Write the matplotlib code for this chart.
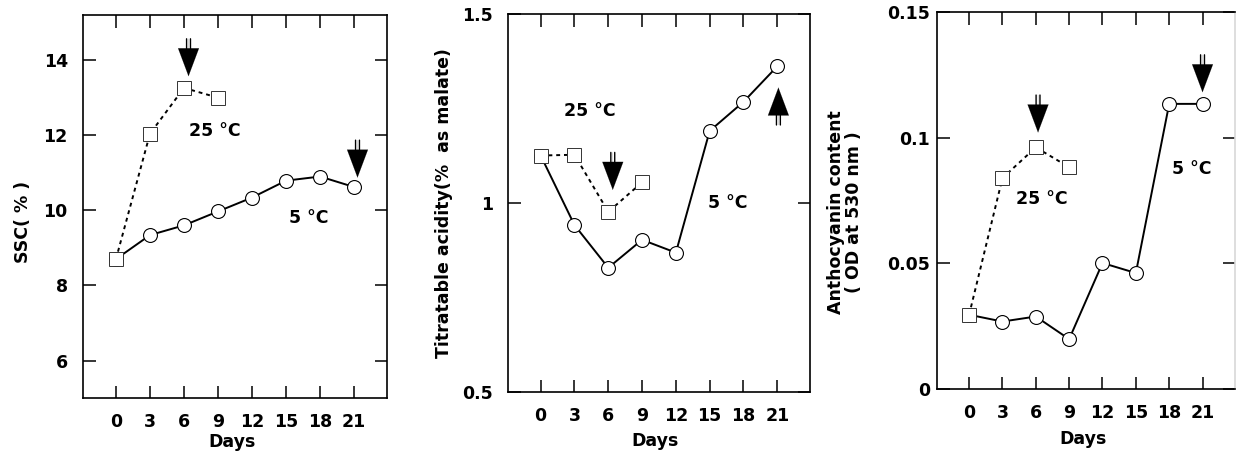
import matplotlib
matplotlib.use("Agg")
import matplotlib.pyplot as plt
from matplotlib.transforms import offset_copy

plt.rcParams['font.family'] = ['DejaVu Sans']
plt.rcParams['font.weight'] = 'bold'
plt.rcParams['axes.labelweight'] = 'bold'

days_5 = [0, 3, 6, 9, 12, 15, 18, 21]
days_25 = [0, 3, 6, 9]

# SSC (%)
ssc_5 = [8.70, 9.34, 9.60, 9.97, 10.34, 10.79, 10.90, 10.62]
ssc_25 = [8.70, 12.04, 13.26, 13.00]

# titratable acidity (% as malate)
ta_5 = [1.126, 0.942, 0.829, 0.903, 0.869, 1.191, 1.268, 1.362]
ta_25 = [1.126, 1.128, 0.977, 1.055]

# anthocyanin (OD at 530 nm)
anth_5 = [0.0295, 0.0268, 0.0288, 0.0198, 0.0501, 0.0461, 0.1134, 0.1134]
anth_25 = [0.0295, 0.0839, 0.0961, 0.0882]

xticks = [0, 3, 6, 9, 12, 15, 18, 21]
FS = 12.5


def double_arrow(ax, x, y_tip, up=False, length=27):
    fig = ax.figure
    sign = -1 if up else 1
    ax.annotate('', xy=(x, y_tip), xytext=(0, sign * length),
                textcoords='offset points',
                arrowprops=dict(arrowstyle='-|>,head_length=2.0,head_width=0.75',
                                color='k', lw=0.1, shrinkA=0, shrinkB=0))
    for dx in (-1.4, 1.4):
        tr = offset_copy(ax.transData, fig=fig, x=dx, y=0, units='points')
        ax.annotate('', xy=(x, y_tip), xycoords=tr,
                    xytext=(0, sign * length), textcoords='offset points',
                    arrowprops=dict(arrowstyle='-', color='k', lw=1.0,
                                    shrinkA=0, shrinkB=8))


def style(ax, ylim, yticks, yticklabels, ypad):
    ax.set_xlim(-2.9, 23.9)
    ax.set_ylim(*ylim)
    ax.set_xticks(xticks)
    ax.set_yticks(yticks)
    ax.set_yticklabels(yticklabels)
    ax.tick_params(direction='in', length=9, width=1.1, top=True, right=True,
                   labelsize=FS)
    ax.tick_params(axis='x', pad=11)
    ax.tick_params(axis='y', pad=ypad)
    for s in ax.spines.values():
        s.set_linewidth(1.2)
    ax.set_xlabel('Days', fontsize=FS)


def draw(ax, y5, y25):
    ax.plot(days_5, y5, '-', color='k', lw=1.4, marker='o', ms=10,
            mfc='white', mec='k', mew=0.8, zorder=3)
    ax.plot(days_25, y25, color='k', lw=1.4, ls=(0, (2, 2)), marker='s',
            ms=10, mfc='white', mec='#333333', mew=0.7, zorder=4)


fig = plt.figure(figsize=(12.36, 4.57), dpi=100)

# panel 1
ax1 = fig.add_axes([0.0672, 0.129, 0.2459, 0.838])
draw(ax1, ssc_5, ssc_25)
style(ax1, (5, 15.2), [6, 8, 10, 12, 14], ['6', '8', '10', '12', '14'], 11)
ax1.set_ylabel('SSC( % )', fontsize=FS)
ax1.yaxis.set_label_coords(-0.168, 0.46)
ax1.xaxis.set_label_coords(0.49, -0.09)
ax1.text(8.7, 12.1, '25 °C', fontsize=FS, ha='center', va='center')
ax1.text(17.0, 9.8, '5 °C', fontsize=FS, ha='center', va='center')
double_arrow(ax1, 6.4, 13.57)
double_arrow(ax1, 21.3, 10.87)

# panel 2
ax2 = fig.add_axes([0.411, 0.142, 0.2443, 0.827])
draw(ax2, ta_5, ta_25)
style(ax2, (0.5, 1.5), [0.5, 1.0, 1.5], ['0.5', '1', '1.5'], 11)
ax2.set_ylabel('Titratable acidity(%  as malate)', fontsize=FS)
ax2.yaxis.set_label_coords(-0.182, 0.5)
ax2.xaxis.set_label_coords(0.487, -0.105)
ax2.text(4.4, 1.245, '25 °C', fontsize=FS, ha='center', va='center')
ax2.text(16.6, 1.0, '5 °C', fontsize=FS, ha='center', va='center')
double_arrow(ax2, 6.4, 1.035)
double_arrow(ax2, 21.1, 1.306, up=True)

# panel 3
ax3 = fig.add_axes([0.758, 0.149, 0.241, 0.825])
draw(ax3, anth_5, anth_25)
style(ax3, (0, 0.15), [0, 0.05, 0.1, 0.15], ['0', '0.05', '0.1', '0.15'], 5)
ax3.spines['right'].set_color('#d8d8d8')
ax3.set_ylabel('Anthocyanin content\n( OD at 530 nm )', fontsize=FS,
               linespacing=1.0)
ax3.yaxis.set_label_coords(-0.248, 0.47)
ax3.xaxis.set_label_coords(0.49, -0.108)
ax3.text(6.5, 0.0757, '25 °C', fontsize=FS, ha='center', va='center')
ax3.text(20.0, 0.0873, '5 °C', fontsize=FS, ha='center', va='center')
double_arrow(ax3, 6.2, 0.102)
double_arrow(ax3, 21.0, 0.118)

fig.savefig('out.png', dpi=100)
